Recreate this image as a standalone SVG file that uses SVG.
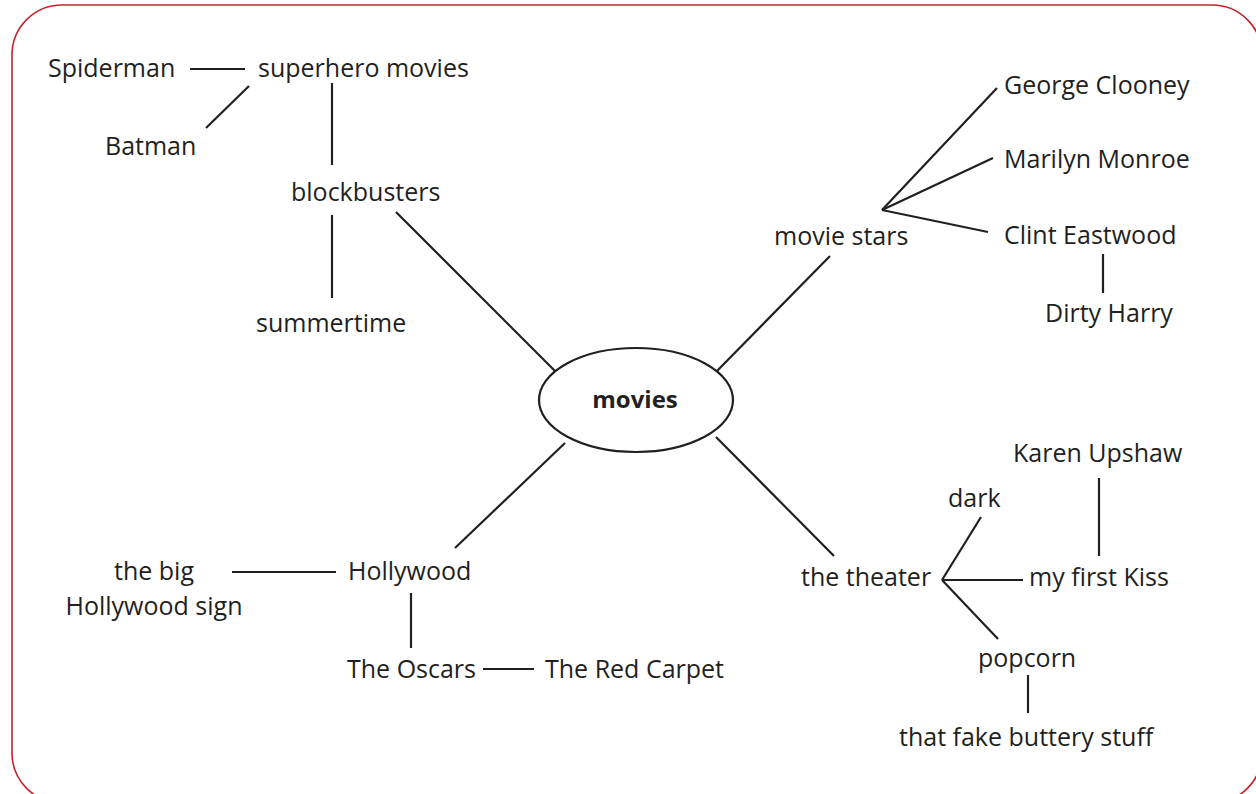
<svg xmlns="http://www.w3.org/2000/svg" width="1256" height="794" viewBox="0 0 1256 794">
  <style>
    .lbl { font-family: "Open Sans", "Noto Sans", sans-serif; font-size: 25px; fill: #231f20; }
    .hub { font-family: "Open Sans", "Noto Sans", sans-serif; font-size: 24px; font-weight: bold; fill: #231f20; }
    .link { stroke: #231f20; stroke-width: 2.2; fill: none; }
  </style>
  <rect x="12" y="5" width="1250" height="798" rx="50" ry="50" fill="#ffffff" stroke="#c1272d" stroke-width="1.6"/>

  <g id="connectors" class="link">
    <line x1="190" y1="69" x2="245" y2="69"/>
    <line x1="249" y1="86" x2="206" y2="128"/>
    <line x1="332" y1="83" x2="332" y2="165"/>
    <line x1="332" y1="215" x2="332" y2="298"/>
    <line x1="396" y1="212" x2="555" y2="371"/>
    <line x1="830" y1="256" x2="716" y2="372"/>
    <line x1="882" y1="210" x2="997" y2="88"/>
    <line x1="882" y1="210" x2="993" y2="158"/>
    <line x1="882" y1="210" x2="988" y2="232"/>
    <line x1="1103" y1="254" x2="1103" y2="293"/>
    <line x1="565" y1="443" x2="455" y2="548"/>
    <line x1="232" y1="572" x2="336" y2="572"/>
    <line x1="411" y1="593" x2="411" y2="648"/>
    <line x1="483" y1="669" x2="534" y2="669"/>
    <line x1="716" y1="437" x2="834" y2="556"/>
    <line x1="942" y1="580" x2="981" y2="517"/>
    <line x1="942" y1="580" x2="1023" y2="580"/>
    <line x1="942" y1="580" x2="998" y2="639"/>
    <line x1="1099" y1="478" x2="1099" y2="556"/>
    <line x1="1028" y1="675" x2="1028" y2="713"/>
  </g>

  <g id="node-movies">
    <ellipse cx="636" cy="400" rx="97" ry="52" fill="#ffffff" stroke="#231f20" stroke-width="2.2"/>
    <text class="hub" x="635" y="408" text-anchor="middle">movies</text>
  </g>
  <g id="node-superhero"><text class="lbl" x="258" y="77">superhero movies</text></g>
  <g id="node-spiderman"><text class="lbl" x="48" y="77">Spiderman</text></g>
  <g id="node-batman"><text class="lbl" x="105" y="155">Batman</text></g>
  <g id="node-blockbusters"><text class="lbl" x="291" y="201">blockbusters</text></g>
  <g id="node-summertime"><text class="lbl" x="256" y="332">summertime</text></g>
  <g id="node-moviestars"><text class="lbl" x="774" y="245">movie stars</text></g>
  <g id="node-clooney"><text class="lbl" x="1004" y="94">George Clooney</text></g>
  <g id="node-monroe"><text class="lbl" x="1004" y="168">Marilyn Monroe</text></g>
  <g id="node-eastwood"><text class="lbl" x="1004" y="244">Clint Eastwood</text></g>
  <g id="node-dirtyharry"><text class="lbl" x="1045" y="322">Dirty Harry</text></g>
  <g id="node-hollywood"><text class="lbl" x="348" y="580">Hollywood</text></g>
  <g id="node-sign"><text class="lbl" x="154" y="580" text-anchor="middle">the big<tspan x="154" y="615">Hollywood sign</tspan></text></g>
  <g id="node-oscars"><text class="lbl" x="347" y="678">The Oscars</text></g>
  <g id="node-redcarpet"><text class="lbl" x="545" y="678">The Red Carpet</text></g>
  <g id="node-theater"><text class="lbl" x="801" y="586">the theater</text></g>
  <g id="node-dark"><text class="lbl" x="948" y="507">dark</text></g>
  <g id="node-kiss"><text class="lbl" x="1029" y="586">my first Kiss</text></g>
  <g id="node-upshaw"><text class="lbl" x="1013" y="462">Karen Upshaw</text></g>
  <g id="node-popcorn"><text class="lbl" x="978" y="667">popcorn</text></g>
  <g id="node-butter"><text class="lbl" x="899" y="746">that fake buttery stuff</text></g>
</svg>
